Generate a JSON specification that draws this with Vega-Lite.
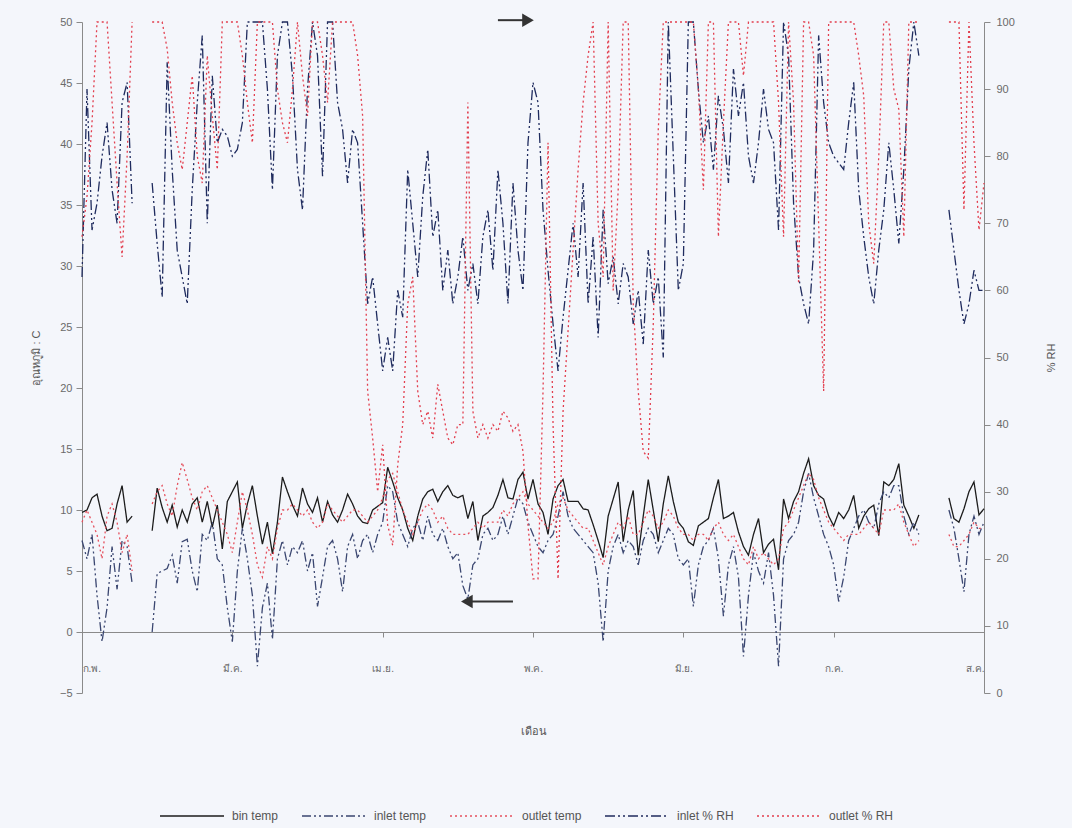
{
"$schema": "https://vega.github.io/schema/vega-lite/v6.json",
"width": 902, "height": 671,
"autosize": {"type": "none"},
"padding": {"left": 82, "top": 22, "right": 88, "bottom": 135},
"background": "#f4f6fb",
"config": {"view": {"stroke": null}, "font": "Liberation Sans", "mark": {"invalid": "break-paths-show-domains"},
  "axis": {"grid": false, "domainColor": "#8a8a8a", "tickColor": "#8a8a8a", "labelColor": "#6a6a6a", "titleColor": "#555555", "labelFontSize": 11, "titleFontSize": 11, "titleFontWeight": "normal", "labelFont": "Liberation Sans", "titleFont": "Liberation Sans"}},
"data": {"values": [
{"d":0,"bin":9.8,"inlet":7.5,"outlet":9,"inRH":62,"outRH":68},
{"d":1,"bin":10,"inlet":6,"outlet":10,"inRH":90,"outRH":74},
{"d":2,"bin":11,"inlet":8,"outlet":9,"inRH":69,"outRH":85},
{"d":3,"bin":11.3,"inlet":3,"outlet":8,"inRH":73,"outRH":100},
{"d":4,"bin":9.5,"inlet":-0.8,"outlet":6,"inRH":80,"outRH":100},
{"d":5,"bin":8.3,"inlet":2,"outlet":9.5,"inRH":85,"outRH":100},
{"d":6,"bin":8.5,"inlet":7,"outlet":10.5,"inRH":75,"outRH":88},
{"d":7,"bin":10.5,"inlet":3.5,"outlet":9,"inRH":70,"outRH":76},
{"d":8,"bin":12,"inlet":7.5,"outlet":6.5,"inRH":88,"outRH":65},
{"d":9,"bin":9,"inlet":7,"outlet":8,"inRH":91,"outRH":80},
{"d":10,"bin":9.5,"inlet":4,"outlet":5,"inRH":73,"outRH":100},
{"d":11,"bin":null,"inlet":null,"outlet":null,"inRH":null,"outRH":null},
{"d":12,"bin":null,"inlet":null,"outlet":null,"inRH":null,"outRH":null},
{"d":13,"bin":null,"inlet":null,"outlet":null,"inRH":null,"outRH":null},
{"d":14,"bin":8.3,"inlet":0,"outlet":10.5,"inRH":76,"outRH":100},
{"d":15,"bin":11.8,"inlet":4.8,"outlet":11.5,"inRH":67,"outRH":100},
{"d":16,"bin":10.2,"inlet":5,"outlet":12,"inRH":59,"outRH":100},
{"d":17,"bin":9,"inlet":5.2,"outlet":10.5,"inRH":94,"outRH":96},
{"d":18,"bin":10.4,"inlet":6.3,"outlet":9.5,"inRH":78,"outRH":88},
{"d":19,"bin":8.6,"inlet":4,"outlet":12,"inRH":66,"outRH":82},
{"d":20,"bin":10,"inlet":7.4,"outlet":13.9,"inRH":62,"outRH":78},
{"d":21,"bin":9,"inlet":7.6,"outlet":12.5,"inRH":58,"outRH":85},
{"d":22,"bin":10.5,"inlet":5,"outlet":11,"inRH":75,"outRH":92},
{"d":23,"bin":11,"inlet":3.3,"outlet":10,"inRH":88,"outRH":80},
{"d":24,"bin":9,"inlet":8,"outlet":11.5,"inRH":98,"outRH":76},
{"d":25,"bin":10.7,"inlet":7.5,"outlet":12,"inRH":70,"outRH":95},
{"d":26,"bin":8.6,"inlet":9,"outlet":11,"inRH":92,"outRH":86},
{"d":27,"bin":10.4,"inlet":6,"outlet":10,"inRH":82,"outRH":78},
{"d":28,"bin":6.8,"inlet":5.5,"outlet":9,"inRH":84,"outRH":100},
{"d":29,"bin":10.7,"inlet":2,"outlet":8,"inRH":83,"outRH":100},
{"d":30,"bin":11.5,"inlet":-0.8,"outlet":6.5,"inRH":80,"outRH":100},
{"d":31,"bin":12.3,"inlet":5,"outlet":9,"inRH":81,"outRH":100},
{"d":32,"bin":8.5,"inlet":8.5,"outlet":11.5,"inRH":85,"outRH":95},
{"d":33,"bin":10.5,"inlet":6,"outlet":10,"inRH":100,"outRH":88},
{"d":34,"bin":12,"inlet":3,"outlet":8,"inRH":100,"outRH":82},
{"d":35,"bin":9.5,"inlet":-2.8,"outlet":5.5,"inRH":100,"outRH":100},
{"d":36,"bin":7.2,"inlet":2,"outlet":4.5,"inRH":100,"outRH":100},
{"d":37,"bin":9,"inlet":4,"outlet":7,"inRH":90,"outRH":100},
{"d":38,"bin":6.4,"inlet":-0.6,"outlet":6,"inRH":75,"outRH":100},
{"d":39,"bin":9,"inlet":6,"outlet":8.5,"inRH":95,"outRH":90},
{"d":40,"bin":12.7,"inlet":7.5,"outlet":10,"inRH":100,"outRH":85},
{"d":41,"bin":11.5,"inlet":5.5,"outlet":10,"inRH":100,"outRH":82},
{"d":42,"bin":10.4,"inlet":7,"outlet":10.5,"inRH":92,"outRH":90},
{"d":43,"bin":9.5,"inlet":6.5,"outlet":10,"inRH":78,"outRH":100},
{"d":44,"bin":11.8,"inlet":7.5,"outlet":9.5,"inRH":72,"outRH":92},
{"d":45,"bin":10.5,"inlet":5,"outlet":10,"inRH":90,"outRH":86},
{"d":46,"bin":9.8,"inlet":6.5,"outlet":9,"inRH":100,"outRH":100},
{"d":47,"bin":11,"inlet":2.1,"outlet":8.5,"inRH":95,"outRH":100},
{"d":48,"bin":9,"inlet":4.5,"outlet":9,"inRH":77,"outRH":95},
{"d":49,"bin":10.7,"inlet":7,"outlet":10.5,"inRH":100,"outRH":88},
{"d":50,"bin":9.6,"inlet":7.5,"outlet":10,"inRH":100,"outRH":100},
{"d":51,"bin":9,"inlet":6,"outlet":9.5,"inRH":88,"outRH":100},
{"d":52,"bin":10,"inlet":3.3,"outlet":9,"inRH":84,"outRH":100},
{"d":53,"bin":11.3,"inlet":7,"outlet":9.5,"inRH":76,"outRH":100},
{"d":54,"bin":10.5,"inlet":8,"outlet":10,"inRH":84,"outRH":100},
{"d":55,"bin":9.5,"inlet":6,"outlet":10,"inRH":82,"outRH":95},
{"d":56,"bin":9,"inlet":7.5,"outlet":9.5,"inRH":70,"outRH":86},
{"d":57,"bin":8.9,"inlet":8,"outlet":9,"inRH":58,"outRH":45},
{"d":58,"bin":10,"inlet":6.5,"outlet":9.5,"inRH":62,"outRH":38},
{"d":59,"bin":10.3,"inlet":8,"outlet":10,"inRH":55,"outRH":30},
{"d":60,"bin":10.6,"inlet":9,"outlet":11,"inRH":48,"outRH":37},
{"d":61,"bin":13.5,"inlet":12,"outlet":12.5,"inRH":53,"outRH":25},
{"d":62,"bin":12.3,"inlet":11.5,"outlet":13,"inRH":48,"outRH":22},
{"d":63,"bin":11,"inlet":9,"outlet":11.5,"inRH":60,"outRH":34},
{"d":64,"bin":10,"inlet":8,"outlet":10,"inRH":56,"outRH":40},
{"d":65,"bin":8.5,"inlet":7,"outlet":9,"inRH":78,"outRH":58},
{"d":66,"bin":7.5,"inlet":8.5,"outlet":8,"inRH":70,"outRH":62},
{"d":67,"bin":9.5,"inlet":9,"outlet":9,"inRH":62,"outRH":45},
{"d":68,"bin":10.9,"inlet":7.5,"outlet":10,"inRH":74,"outRH":40},
{"d":69,"bin":11.5,"inlet":9.5,"outlet":10.5,"inRH":81,"outRH":42},
{"d":70,"bin":11.7,"inlet":8,"outlet":10,"inRH":68,"outRH":38},
{"d":71,"bin":10.7,"inlet":7.5,"outlet":9,"inRH":72,"outRH":46},
{"d":72,"bin":11.5,"inlet":8.5,"outlet":9.5,"inRH":60,"outRH":42},
{"d":73,"bin":12,"inlet":7,"outlet":8.5,"inRH":66,"outRH":38},
{"d":74,"bin":11.2,"inlet":6,"outlet":8,"inRH":58,"outRH":37},
{"d":75,"bin":11,"inlet":6.5,"outlet":8,"inRH":62,"outRH":40},
{"d":76,"bin":11.2,"inlet":3.8,"outlet":8,"inRH":68,"outRH":40},
{"d":77,"bin":9.3,"inlet":2.7,"outlet":8,"inRH":60,"outRH":88},
{"d":78,"bin":10.7,"inlet":5.5,"outlet":8.5,"inRH":64,"outRH":42},
{"d":79,"bin":7.5,"inlet":6,"outlet":9,"inRH":58,"outRH":38},
{"d":80,"bin":9.5,"inlet":8,"outlet":8.5,"inRH":68,"outRH":40},
{"d":81,"bin":9.8,"inlet":8.5,"outlet":9,"inRH":72,"outRH":38},
{"d":82,"bin":10.2,"inlet":7.5,"outlet":9,"inRH":63,"outRH":40},
{"d":83,"bin":11.2,"inlet":8,"outlet":9,"inRH":78,"outRH":39},
{"d":84,"bin":12.5,"inlet":9.5,"outlet":10,"inRH":70,"outRH":42},
{"d":85,"bin":11,"inlet":8,"outlet":9.5,"inRH":58,"outRH":41},
{"d":86,"bin":10.9,"inlet":9.5,"outlet":10.5,"inRH":76,"outRH":39},
{"d":87,"bin":12.5,"inlet":11,"outlet":11,"inRH":66,"outRH":40},
{"d":88,"bin":13.1,"inlet":10.5,"outlet":11.5,"inRH":60,"outRH":36},
{"d":89,"bin":10.9,"inlet":9,"outlet":10.5,"inRH":82,"outRH":25},
{"d":90,"bin":12.5,"inlet":8,"outlet":10,"inRH":91,"outRH":17},
{"d":91,"bin":10.5,"inlet":7,"outlet":9.5,"inRH":88,"outRH":17},
{"d":92,"bin":9.8,"inlet":6.5,"outlet":9,"inRH":72,"outRH":45},
{"d":93,"bin":8,"inlet":7.5,"outlet":8.5,"inRH":63,"outRH":82},
{"d":94,"bin":10.9,"inlet":8,"outlet":9,"inRH":55,"outRH":40},
{"d":95,"bin":12,"inlet":9.5,"outlet":10.5,"inRH":48,"outRH":17},
{"d":96,"bin":12.5,"inlet":11.5,"outlet":11,"inRH":56,"outRH":42},
{"d":97,"bin":10.7,"inlet":9.5,"outlet":10,"inRH":63,"outRH":54},
{"d":98,"bin":10.7,"inlet":8.5,"outlet":9.5,"inRH":70,"outRH":66},
{"d":99,"bin":10.7,"inlet":8,"outlet":9,"inRH":62,"outRH":78},
{"d":100,"bin":10.1,"inlet":7.5,"outlet":8.5,"inRH":76,"outRH":88},
{"d":101,"bin":10,"inlet":7,"outlet":8.5,"inRH":58,"outRH":95},
{"d":102,"bin":8.8,"inlet":6.5,"outlet":7.5,"inRH":68,"outRH":100},
{"d":103,"bin":7.5,"inlet":4,"outlet":6.5,"inRH":53,"outRH":70},
{"d":104,"bin":6.1,"inlet":-0.8,"outlet":5.5,"inRH":72,"outRH":62},
{"d":105,"bin":9.5,"inlet":5,"outlet":7,"inRH":61,"outRH":100},
{"d":106,"bin":10.9,"inlet":7,"outlet":8,"inRH":65,"outRH":60},
{"d":107,"bin":12.3,"inlet":8,"outlet":9,"inRH":58,"outRH":75},
{"d":108,"bin":7.4,"inlet":6.5,"outlet":8.5,"inRH":64,"outRH":100},
{"d":109,"bin":10,"inlet":7.5,"outlet":9.5,"inRH":62,"outRH":100},
{"d":110,"bin":11.6,"inlet":7,"outlet":8,"inRH":55,"outRH":58},
{"d":111,"bin":6.3,"inlet":5.5,"outlet":8,"inRH":60,"outRH":45},
{"d":112,"bin":9.5,"inlet":7.5,"outlet":9,"inRH":52,"outRH":36},
{"d":113,"bin":12.5,"inlet":8.5,"outlet":10,"inRH":66,"outRH":35},
{"d":114,"bin":10,"inlet":8,"outlet":9.5,"inRH":58,"outRH":55},
{"d":115,"bin":7.4,"inlet":6.5,"outlet":8.5,"inRH":62,"outRH":84},
{"d":116,"bin":10.5,"inlet":7.5,"outlet":9,"inRH":50,"outRH":100},
{"d":117,"bin":12.8,"inlet":8.5,"outlet":10,"inRH":100,"outRH":100},
{"d":118,"bin":10.7,"inlet":8,"outlet":9.5,"inRH":80,"outRH":100},
{"d":119,"bin":9,"inlet":6,"outlet":8.5,"inRH":60,"outRH":100},
{"d":120,"bin":8.5,"inlet":5.5,"outlet":8,"inRH":64,"outRH":100},
{"d":121,"bin":7.4,"inlet":6,"outlet":8,"inRH":100,"outRH":100},
{"d":122,"bin":7.1,"inlet":2.1,"outlet":7.5,"inRH":100,"outRH":100},
{"d":123,"bin":8.7,"inlet":5.5,"outlet":8,"inRH":90,"outRH":90},
{"d":124,"bin":9,"inlet":7,"outlet":8,"inRH":82,"outRH":75},
{"d":125,"bin":9.3,"inlet":7.5,"outlet":7.5,"inRH":86,"outRH":100},
{"d":126,"bin":11,"inlet":8.5,"outlet":8.5,"inRH":78,"outRH":100},
{"d":127,"bin":12.5,"inlet":6,"outlet":9,"inRH":89,"outRH":68},
{"d":128,"bin":9.3,"inlet":1.3,"outlet":8,"inRH":84,"outRH":85},
{"d":129,"bin":9.5,"inlet":5.5,"outlet":7.5,"inRH":76,"outRH":100},
{"d":130,"bin":9.8,"inlet":7,"outlet":8,"inRH":93,"outRH":100},
{"d":131,"bin":8.2,"inlet":4.5,"outlet":7,"inRH":86,"outRH":100},
{"d":132,"bin":7,"inlet":-2,"outlet":6,"inRH":91,"outRH":92},
{"d":133,"bin":6.3,"inlet":3,"outlet":5.5,"inRH":80,"outRH":100},
{"d":134,"bin":8,"inlet":6.5,"outlet":7,"inRH":76,"outRH":100},
{"d":135,"bin":9.3,"inlet":5,"outlet":6,"inRH":82,"outRH":100},
{"d":136,"bin":6.5,"inlet":4,"outlet":6.5,"inRH":90,"outRH":100},
{"d":137,"bin":7.2,"inlet":6.5,"outlet":6,"inRH":84,"outRH":100},
{"d":138,"bin":7.6,"inlet":3,"outlet":5.5,"inRH":82,"outRH":100},
{"d":139,"bin":5.1,"inlet":-2.8,"outlet":6,"inRH":69,"outRH":88},
{"d":140,"bin":10.9,"inlet":6,"outlet":8.5,"inRH":100,"outRH":68},
{"d":141,"bin":9.3,"inlet":7.5,"outlet":9,"inRH":95,"outRH":100},
{"d":142,"bin":10.7,"inlet":8,"outlet":10,"inRH":73,"outRH":88},
{"d":143,"bin":11.5,"inlet":9,"outlet":11,"inRH":62,"outRH":61},
{"d":144,"bin":13,"inlet":11.5,"outlet":12,"inRH":58,"outRH":100},
{"d":145,"bin":14.2,"inlet":13,"outlet":13,"inRH":55,"outRH":100},
{"d":146,"bin":12,"inlet":11,"outlet":12.5,"inRH":66,"outRH":95},
{"d":147,"bin":11.2,"inlet":9.5,"outlet":11,"inRH":98,"outRH":70},
{"d":148,"bin":10.9,"inlet":8,"outlet":10,"inRH":88,"outRH":45},
{"d":149,"bin":9.5,"inlet":7,"outlet":9,"inRH":82,"outRH":100},
{"d":150,"bin":8.7,"inlet":5.5,"outlet":8.5,"inRH":80,"outRH":100},
{"d":151,"bin":9.8,"inlet":2.5,"outlet":8,"inRH":79,"outRH":100},
{"d":152,"bin":9.3,"inlet":4.5,"outlet":7.5,"inRH":78,"outRH":100},
{"d":153,"bin":10,"inlet":7.5,"outlet":8,"inRH":85,"outRH":100},
{"d":154,"bin":11.2,"inlet":8.5,"outlet":8,"inRH":91,"outRH":100},
{"d":155,"bin":8.5,"inlet":9.5,"outlet":8,"inRH":75,"outRH":95},
{"d":156,"bin":9.5,"inlet":10,"outlet":8.5,"inRH":68,"outRH":89},
{"d":157,"bin":10.1,"inlet":9,"outlet":9,"inRH":62,"outRH":70},
{"d":158,"bin":10.4,"inlet":8.5,"outlet":8.5,"inRH":58,"outRH":64},
{"d":159,"bin":7.9,"inlet":10.5,"outlet":8,"inRH":66,"outRH":80},
{"d":160,"bin":12.3,"inlet":11.5,"outlet":10,"inRH":72,"outRH":100},
{"d":161,"bin":12,"inlet":11,"outlet":10,"inRH":82,"outRH":100},
{"d":162,"bin":12.5,"inlet":12,"outlet":10,"inRH":75,"outRH":90},
{"d":163,"bin":13.8,"inlet":12,"outlet":10.5,"inRH":67,"outRH":87},
{"d":164,"bin":10.4,"inlet":9.5,"outlet":9,"inRH":78,"outRH":68},
{"d":165,"bin":9.5,"inlet":8,"outlet":8,"inRH":93,"outRH":100},
{"d":166,"bin":8.5,"inlet":9,"outlet":7,"inRH":100,"outRH":100},
{"d":167,"bin":9.6,"inlet":8,"outlet":7.5,"inRH":95,"outRH":100},
{"d":168,"bin":null,"inlet":null,"outlet":null,"inRH":null,"outRH":null},
{"d":169,"bin":null,"inlet":null,"outlet":null,"inRH":null,"outRH":null},
{"d":170,"bin":null,"inlet":null,"outlet":null,"inRH":null,"outRH":null},
{"d":171,"bin":null,"inlet":null,"outlet":null,"inRH":null,"outRH":null},
{"d":172,"bin":null,"inlet":null,"outlet":null,"inRH":null,"outRH":null},
{"d":173,"bin":11,"inlet":10,"outlet":8,"inRH":72,"outRH":100},
{"d":174,"bin":9.3,"inlet":8.5,"outlet":7,"inRH":66,"outRH":100},
{"d":175,"bin":9,"inlet":6,"outlet":7,"inRH":60,"outRH":100},
{"d":176,"bin":10.1,"inlet":3.3,"outlet":7.5,"inRH":55,"outRH":72},
{"d":177,"bin":11.5,"inlet":8,"outlet":8,"inRH":58,"outRH":100},
{"d":178,"bin":12.3,"inlet":9.5,"outlet":9,"inRH":63,"outRH":82},
{"d":179,"bin":9.6,"inlet":8,"outlet":8.5,"inRH":60,"outRH":69},
{"d":180,"bin":10.1,"inlet":9,"outlet":8.5,"inRH":60,"outRH":76}
]},
"encoding": {
  "x": {"field": "d", "type": "quantitative", "scale": {"domain": [0, 180], "nice": false, "zero": false},
    "axis": {"values": [0, 30, 60, 90, 120, 150, 180], "labelExpr": "['ก.พ.','มี.ค.','เม.ย.','พ.ค.','มิ.ย.','ก.ค.','ส.ค.'][round(datum.value/30)]", "title": "เดือน", "offset": -61, "tickSize": 5, "labelPadding": 26, "titlePadding": 52, "labelFlush": true, "labelFontSize": 10}}
},
"layer": [
  {"transform": [{"fold": ["bin", "inlet", "outlet"], "as": ["series", "value"]}],
   "mark": {"type": "line", "strokeWidth": 1.3},
   "encoding": {
     "y": {"field": "value", "type": "quantitative", "scale": {"domain": [-5, 50], "nice": false, "zero": false},
       "axis": {"values": [-5, 0, 5, 10, 15, 20, 25, 30, 35, 40, 45, 50], "title": "อุณหภูมิ : C", "tickSize": 6, "labelPadding": 4, "titlePadding": 18}},
     "color": {"field": "series", "type": "nominal",
       "scale": {"domain": ["bin", "inlet", "outlet", "inRH", "outRH"], "range": ["#1c1c1c", "#3a4670", "#e5505d", "#1f2b5e", "#e23e4e"]},
       "legend": {"orient": "none", "legendX": 77, "legendY": 761, "direction": "horizontal", "columns": 5, "title": null, "symbolType": "stroke", "symbolSize": 4096, "symbolStrokeWidth": 1.5, "labelFontSize": 12, "labelColor": "#555555", "columnPadding": 20, "labelOffset": 7,
         "labelExpr": "{'bin':'bin temp','inlet':'inlet temp','outlet':'outlet temp','inRH':'inlet % RH','outRH':'outlet % RH'}[datum.label]"}},
     "strokeDash": {"field": "series", "type": "nominal",
       "scale": {"domain": ["bin", "inlet", "outlet", "inRH", "outRH"], "range": [[1, 0], [9, 3, 2, 3, 2, 3], [2, 3], [10, 3, 2, 3, 2, 3], [2, 3]]},
       "legend": {"orient": "none", "legendX": 77, "legendY": 761, "direction": "horizontal", "columns": 5, "title": null, "symbolType": "stroke", "symbolSize": 4096, "symbolStrokeWidth": 1.5, "labelFontSize": 12, "labelColor": "#555555", "columnPadding": 20, "labelOffset": 7,
         "labelExpr": "{'bin':'bin temp','inlet':'inlet temp','outlet':'outlet temp','inRH':'inlet % RH','outRH':'outlet % RH'}[datum.label]"}}
   }},
  {"transform": [{"fold": ["inRH", "outRH"], "as": ["series", "value"]}],
   "mark": {"type": "line", "strokeWidth": 1.3},
   "encoding": {
     "y": {"field": "value", "type": "quantitative", "scale": {"domain": [0, 100], "nice": false, "zero": false},
       "axis": {"orient": "right", "values": [0, 10, 20, 30, 40, 50, 60, 70, 80, 90, 100], "title": "% RH", "titleAngle": -90, "tickSize": 6, "labelPadding": 6, "titlePadding": 42}},
     "color": {"field": "series", "type": "nominal"},
     "strokeDash": {"field": "series", "type": "nominal"}
   }},
  {"data": {"values": [{"d": 83, "d2": 88.5, "t": 50.15}, {"d": 77.5, "d2": 86, "t": 2.5}]},
   "mark": {"type": "rule", "strokeWidth": 2, "color": "#333333"},
   "encoding": {
     "x2": {"field": "d2"},
     "y": {"field": "t", "type": "quantitative", "scale": {"domain": [-5, 50], "nice": false, "zero": false}, "axis": null}
   }},
  {"data": {"values": [{"d": 89, "t": 50.15, "dir": "triangle-right"}, {"d": 76.8, "t": 2.5, "dir": "triangle-left"}]},
   "mark": {"type": "point", "filled": true, "color": "#333333", "size": 180, "opacity": 1},
   "encoding": {
     "y": {"field": "t", "type": "quantitative", "scale": {"domain": [-5, 50], "nice": false, "zero": false}, "axis": null},
     "shape": {"field": "dir", "type": "nominal", "scale": null}
   }}
],
"resolve": {"scale": {"y": "independent"}}
}
